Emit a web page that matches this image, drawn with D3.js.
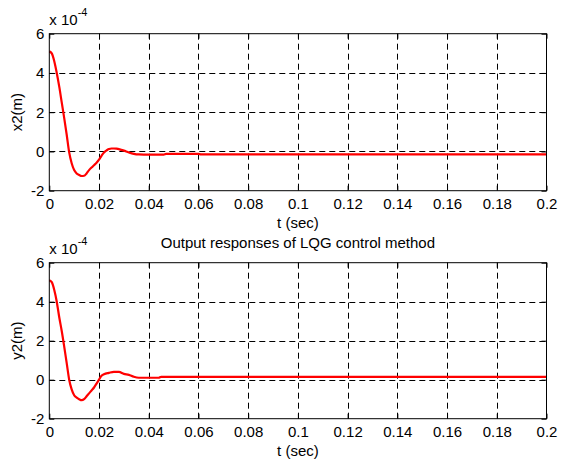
<!DOCTYPE html>
<html>
<head>
<meta charset="utf-8">
<script src="https://cdn.jsdelivr.net/npm/d3@7"></script>
<style>
  body { margin: 0; background: #fff; }
  svg { display: block; }
  text { font-family: "Liberation Sans", Arial, sans-serif; fill: #000; }
</style>
</head>
<body>
<svg id="chart" width="561" height="459"></svg>
<script>
// Time samples (s) and responses (x 1e-4 m) for the LQG-controlled outputs
const tX2 = [0, 0.001, 0.002, 0.003, 0.004, 0.005, 0.006, 0.007, 0.008, 0.009, 0.010,
  0.011, 0.012, 0.013, 0.014, 0.015, 0.016, 0.017, 0.018, 0.019, 0.020, 0.021, 0.022,
  0.023, 0.024, 0.025, 0.026, 0.027, 0.028, 0.029, 0.030, 0.032, 0.034, 0.036, 0.040,
  0.046, 0.047, 0.060, 0.061, 0.200];
const x2 = [5.1, 5.0, 4.6, 4.0, 3.3, 2.5, 1.7, 0.85, -0.05, -0.6, -0.95,
  -1.12, -1.2, -1.25, -1.24, -1.12, -0.95, -0.82, -0.7, -0.58, -0.42, -0.22, -0.05,
  0.05, 0.12, 0.15, 0.15, 0.14, 0.12, 0.08, 0.04, -0.05, -0.12, -0.15, -0.16,
  -0.16, -0.12, -0.12, -0.15, -0.15];

const tY2 = [0, 0.001, 0.002, 0.003, 0.004, 0.005, 0.006, 0.007, 0.008, 0.009, 0.010,
  0.011, 0.012, 0.013, 0.014, 0.015, 0.016, 0.017, 0.018, 0.019, 0.020, 0.021, 0.022,
  0.024, 0.026, 0.028, 0.030, 0.032, 0.034, 0.036, 0.044, 0.045, 0.200];
const y2 = [5.1, 5.0, 4.6, 4.0, 3.2, 2.5, 1.7, 0.85, 0.0, -0.5, -0.8,
  -0.92, -1.0, -1.05, -1.0, -0.85, -0.7, -0.55, -0.4, -0.2, 0.0, 0.2, 0.28,
  0.35, 0.4, 0.4, 0.3, 0.25, 0.15, 0.1, 0.1, 0.15, 0.15];

const xTicks = [0, 0.02, 0.04, 0.06, 0.08, 0.1, 0.12, 0.14, 0.16, 0.18, 0.2];
const yTicks = [-2, 0, 2, 4, 6];

const panels = [
  { t: tX2, v: x2, ylabel: "x2(m)", top: 33.7, bottom: 190.7, title: null },
  { t: tY2, v: y2, ylabel: "y2(m)", top: 262.7, bottom: 418.7,
    title: "Output responses of LQG control method" }
];

const svg = d3.select("#chart");
const left = 49.3, right = 546.5;
const x = d3.scaleLinear().domain([0, 0.2]).range([left, right]);
const fmt = d => d === 0 ? "0" : String(d);

panels.forEach(p => {
  const y = d3.scaleLinear().domain([-2, 6]).range([p.bottom, p.top]);
  const g = svg.append("g");

  // dashed grid
  g.selectAll(".gx").data(xTicks.slice(1, -1)).join("line")
    .attr("x1", d => Math.round(x(d)) + 0.5).attr("x2", d => Math.round(x(d)) + 0.5)
    .attr("y1", p.top).attr("y2", p.bottom)
    .attr("stroke", "#000").attr("stroke-width", 1).attr("stroke-dasharray", "6,4");
  g.selectAll(".gy").data(yTicks.slice(1, -1)).join("line")
    .attr("y1", d => Math.round(y(d)) + 0.5).attr("y2", d => Math.round(y(d)) + 0.5)
    .attr("x1", left).attr("x2", right)
    .attr("stroke", "#000").attr("stroke-width", 1).attr("stroke-dasharray", "6,4");

  // axes with inward ticks
  const xb = g.append("g").attr("transform", `translate(0,${p.bottom})`)
    .call(d3.axisBottom(x).tickValues(xTicks).tickFormat(fmt).tickSizeInner(-5).tickSizeOuter(0).tickPadding(7.3));
  const xt = g.append("g").attr("transform", `translate(0,${p.top})`)
    .call(d3.axisTop(x).tickValues(xTicks).tickFormat("").tickSizeInner(-5).tickSizeOuter(0));
  const yl = g.append("g").attr("transform", `translate(${left},0)`)
    .call(d3.axisLeft(y).tickValues(yTicks).tickFormat(fmt).tickSizeInner(-5).tickSizeOuter(0).tickPadding(5));
  const yr = g.append("g").attr("transform", `translate(${right},0)`)
    .call(d3.axisRight(y).tickValues(yTicks).tickFormat("").tickSizeInner(-5).tickSizeOuter(0));
  [xb, xt, yl, yr].forEach(a => {
    a.selectAll(".domain").remove();
    a.selectAll("line").attr("stroke", "#000");
    a.selectAll("text").style("font-size", "15px")
      .style("font-family", '"Liberation Sans", Arial, sans-serif').attr("fill", "#000");
  });

  // response curve
  const line = d3.line().x((d, i) => x(p.t[i])).y(d => y(d)).curve(d3.curveMonotoneX);
  g.append("path").datum(p.v).attr("d", line)
    .attr("fill", "none").attr("stroke", "#ff0000").attr("stroke-width", 2.2)
    .attr("stroke-linejoin", "round");

  // frame
  g.append("rect").attr("x", left).attr("y", p.top)
    .attr("width", right - left).attr("height", p.bottom - p.top)
    .attr("fill", "none").attr("stroke", "#000").attr("stroke-width", 1);

  // labels
  g.append("text").attr("x", (left + right) / 2).attr("y", p.bottom + 37)
    .attr("text-anchor", "middle").style("font-size", "15px").text("t (sec)");
  g.append("text")
    .attr("transform", `translate(22,${(p.top + p.bottom) / 2}) rotate(-90)`)
    .attr("text-anchor", "middle").style("font-size", "15px").text(p.ylabel);
  const sc = g.append("text").attr("x", left).attr("y", p.top - 9).style("font-size", "15px");
  sc.append("tspan").text("x 10");
  sc.append("tspan").attr("dy", -9).style("font-size", "11px").text("-4");
  if (p.title) {
    g.append("text").attr("x", (left + right) / 2).attr("y", p.top - 14.5)
      .attr("text-anchor", "middle").style("font-size", "15px").text(p.title);
  }
});
</script>
</body>
</html>
